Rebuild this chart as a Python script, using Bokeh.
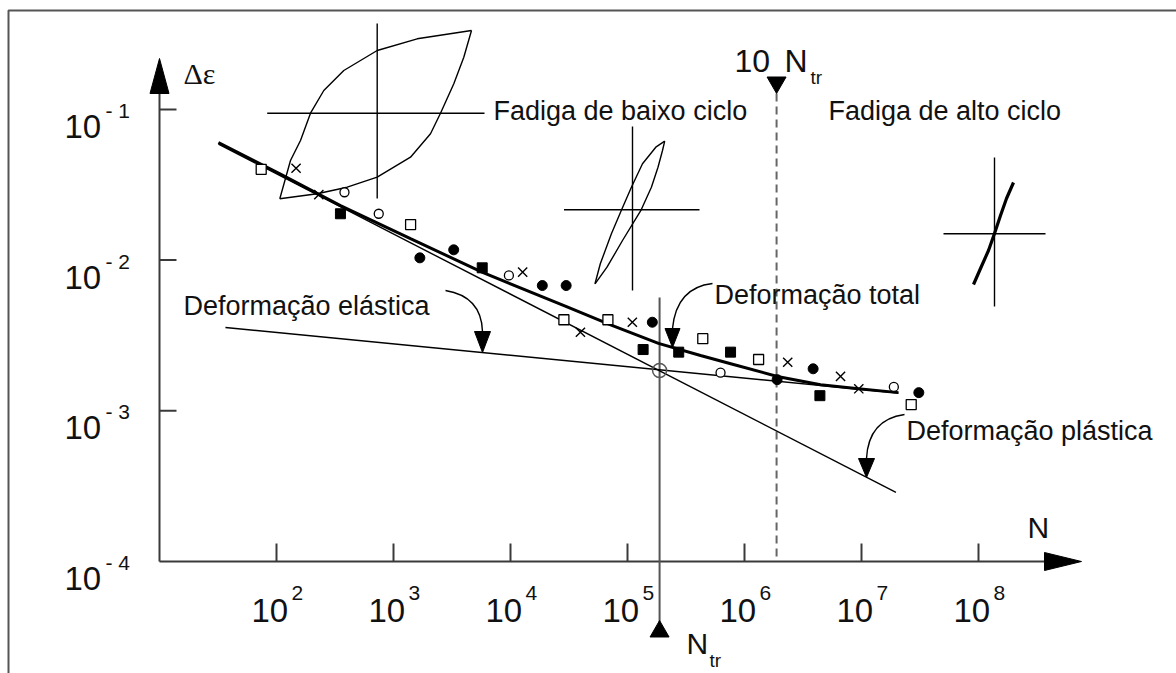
import numpy as np
from bokeh.plotting import figure
from bokeh.models import Range1d, LinearScale
from bokeh.core.properties import value
from bokeh.embed import file_html
from bokeh.resources import INLINE

# ---------------- data ----------------
x_tick_exponents = [2, 3, 4, 5, 6, 7, 8]
y_tick_exponents = [-1, -2, -3, -4]
y_tick_sup = ["- 1", "- 2", "- 3", "- 4"]

open_square_N = [74, 1400, 2.86e4, 6.8e4, 4.4e5, 1.32e6, 2.66e7]
open_square_eps = [0.0400, 0.0172, 0.00402, 0.00402, 0.00301, 0.00219, 0.00110]

filled_square_N = [352, 5730, 1.36e5, 2.74e5, 7.6e5, 4.41e6]
filled_square_eps = [0.0203, 0.00889, 0.00255, 0.00245, 0.00245, 0.00126]

open_circle_N = [381, 748, 9690, 6.24e5, 1.89e7]
open_circle_eps = [0.0282, 0.0203, 0.00791, 0.00179, 0.00144]

filled_circle_N = [1680, 3270, 1.87e4, 2.99e4, 1.63e5, 1.90e6, 3.86e6, 3.09e7]
filled_circle_eps = [0.01035, 0.0117, 0.00678, 0.00678, 0.00387, 0.00161, 0.00190, 0.00132]

cross_N = [147, 230, 1.27e4, 3.96e4, 1.10e5, 2.34e6, 6.62e6, 9.48e6]
cross_eps = [0.0407, 0.0272, 0.00832, 0.00332, 0.00387, 0.00210, 0.00169, 0.00140]

total_N = [31.9, 108, 352, 1396, 5770, 3.01e4, 7.45e4, 1.84e5, 4.21e5, 8.05e5,
           1.91e6, 4.47e6, 9.42e6, 2.07e7]
total_eps = [0.0603, 0.0372, 0.0230, 0.0139, 0.00828, 0.00492, 0.00368, 0.00280,
             0.00233, 0.00203, 0.00169, 0.00149, 0.00140, 0.00132]

elastic_N = [36.6, 2.07e7]
elastic_eps = [0.00357, 0.00131]

plastic_N = [31.9, 1.97e7]
plastic_eps = [0.0589, 0.000288]

N_tr = 1.88e5
eps_tr = 0.00185
N_origin = 10.0
eps_origin = 1e-4

# ---------------- figure ----------------
FONT = "Liberation Sans"
AX = "#3a3a3a"
TXT = "#111111"

LX0, LX1 = -0.35897, 9.69231
LY0, LY1 = -4.74320, -0.27737

p = figure(width=1176, height=673, x_axis_type="log", y_axis_type="log",
           x_range=Range1d(10 ** LX0, 10 ** LX1), y_range=Range1d(10 ** LY0, 10 ** LY1),
           x_axis_location=None, y_axis_location=None, title=None,
           toolbar_location=None, output_backend="svg", min_border=0)
p.outline_line_color = None
p.background_fill_color = "white"
p.border_fill_color = "white"
p.grid.visible = False

# a page-pixel coordinate system for the sketch decorations
p.extra_x_ranges = {"px": Range1d(0, 1176)}
p.extra_y_ranges = {"px": Range1d(673, 0)}
p.extra_x_scales = {"px": LinearScale()}
p.extra_y_scales = {"px": LinearScale()}
PX = dict(x_range_name="px", y_range_name="px")


def ptext(x, y, t, size, font=FONT, **kw):
    p.text(x=[x], y=[y], text=[t], text_font=value(font), text_font_size=size,
           text_baseline="alphabetic", text_align="left", text_color=TXT, **PX, **kw)


# page frame (top + left)
p.line([8, 8, 1176], [673, 10, 10], line_color="#555555", line_width=2, **PX)

# ---------------- axes ----------------
p.line([159, 1046], [561, 561], line_color=AX, line_width=2, **PX)
p.patch([1044, 1081, 1044], [552, 561, 570], color="black", **PX)
p.line([159, 159], [561, 90], line_color=AX, line_width=2, **PX)
p.patch([149.5, 159, 168.5], [93, 58, 93], color="black", **PX)

xt = [10.0 ** e for e in x_tick_exponents]
p.ray(x=xt, y=[eps_origin] * len(xt), length=18, angle=np.pi / 2, length_units="screen",
      line_color=AX, line_width=2)
p.text(x=xt, y=[eps_origin] * len(xt), text=["10"] * len(xt), x_offset=-25, y_offset=49,
       text_font=value(FONT), text_font_size="33px", text_baseline="alphabetic",
       text_align="left", text_color=TXT)
p.text(x=xt, y=[eps_origin] * len(xt), text=[str(e) for e in x_tick_exponents],
       x_offset=15, y_offset=32, text_font=value(FONT), text_font_size="21px",
       text_baseline="alphabetic", text_align="left", text_color=TXT)

yt = [10.0 ** e for e in y_tick_exponents]
p.ray(x=[N_origin] * 3, y=yt[:3], length=17, angle=0, length_units="screen",
      line_color=AX, line_width=2)
p.text(x=[N_origin] * len(yt), y=yt, text=["10"] * len(yt), x_offset=-95, y_offset=17,
       text_font=value(FONT), text_font_size="33px", text_baseline="alphabetic",
       text_align="left", text_color=TXT)
p.text(x=[N_origin] * len(yt), y=yt, text=y_tick_sup, x_offset=-54, y_offset=1,
       text_font=value(FONT), text_font_size="21px", text_baseline="alphabetic",
       text_align="left", text_color=TXT)

ptext(183, 73, "\u0394\u03b5", "30px", font="Liberation Serif")
ptext(1027, 527, "N", "30px")

# ---------------- N_tr markers ----------------
p.line([N_tr, N_tr], [297, 622], line_color="#555555", line_width=2,
       y_range_name="px")
p.scatter([N_tr], [631], marker="triangle", size=19, color="black",
          y_range_name="px")
ptext(686, 643, "N", "30px")
ptext(709, 660, "tr", "19px")

p.line([10 * N_tr, 10 * N_tr], [93, 561], line_color="#666666", line_width=2,
       line_dash="8 5", y_range_name="px")
p.scatter([10 * N_tr], [82], marker="inverted_triangle", size=19, color="black",
          y_range_name="px")
ptext(734, 60, "10", "32px")
ptext(784, 60, "N", "32px")
ptext(810, 77, "tr", "19px")

# ---------------- hysteresis loop sketches ----------------
LW = 1.4
# large loop
p.line([376.7, 376.7], [23, 198], line_color="black", line_width=LW, **PX)
p.line([266.7, 484], [112.7, 112.7], line_color="black", line_width=LW, **PX)
p.line([279.3, 290, 300, 310, 323.3, 343.3, 376.7, 416.7, 471],
       [198.3, 160, 140, 112.7, 90, 70, 50, 38.3, 30], line_color="black", line_width=LW, **PX)
p.line([279.3, 316.7, 346.7, 376.7, 410, 430, 440, 453.3, 463.3, 471],
       [198.3, 193.3, 186.7, 176.7, 156.7, 133.3, 112.7, 83.3, 56.7, 30],
       line_color="black", line_width=LW, **PX)
# medium loop
p.line([632, 632], [126, 290], line_color="black", line_width=LW, **PX)
p.line([563.5, 699], [209.3, 209.3], line_color="black", line_width=LW, **PX)
p.line([594.5, 599.8, 610.9, 621.1, 630.9, 642, 655.3, 664.2],
       [283.3, 263.3, 233.3, 209.3, 186.7, 163.3, 146.7, 140.7], line_color="black", line_width=LW, **PX)
p.line([594.5, 606.5, 622, 640.7, 650.9, 657.5, 662, 664.2],
       [283.3, 266.7, 240, 209.3, 186.7, 166.7, 150, 140.7], line_color="black", line_width=LW, **PX)
# small loop
p.line([994, 994], [157, 306], line_color="black", line_width=LW, **PX)
p.line([943, 1045], [233.3, 233.3], line_color="black", line_width=LW, **PX)
p.line([973, 980, 988, 994, 1000, 1006, 1013],
       [284, 268, 250, 233, 215, 198, 182], line_color="black", line_width=3.2, **PX)

# ---------------- curves ----------------
p.line(elastic_N, elastic_eps, line_color="black", line_width=1.4)
p.line(plastic_N, plastic_eps, line_color="black", line_width=1.4)
p.line(total_N, total_eps, line_color="black", line_width=3)
p.scatter([N_tr], [eps_tr], marker="circle", size=14, fill_color=None,
          line_color="#555555", line_width=1.5)

# ---------------- data points ----------------
p.scatter(open_square_N, open_square_eps, marker="square", size=10, fill_color="white",
          line_color="black", line_width=1.3)
p.scatter(filled_square_N, filled_square_eps, marker="square", size=10, color="black")
p.scatter(open_circle_N, open_circle_eps, marker="circle", size=9, fill_color="white",
          line_color="black", line_width=1.3)
p.scatter(filled_circle_N, filled_circle_eps, marker="circle", size=10, color="black")
p.scatter(cross_N, cross_eps, marker="x", size=13, line_color="black", line_width=1.4)

# ---------------- annotations ----------------
ptext(493, 110, "Fadiga de baixo ciclo", "27px")
ptext(828, 110, "Fadiga de alto ciclo", "27px")
ptext(714, 294, "Deformação total", "27px")
ptext(183, 305, "Deformação elástica", "27px")
ptext(906, 430, "Deformação plástica", "27px")

p.quadratic(x0=[445], y0=[290], x1=[482], y1=[331], cx=[481], cy=[296],
            line_color="black", line_width=1.4, **PX)
p.patch([474, 490, 482], [331, 331, 352], color="black", **PX)
p.quadratic(x0=[712], y0=[283], x1=[672], y1=[328], cx=[676], cy=[287],
            line_color="black", line_width=1.4, **PX)
p.patch([664.5, 679.5, 672], [328, 328, 347], color="black", **PX)
p.quadratic(x0=[904], y0=[414], x1=[866], y1=[458], cx=[868], cy=[419],
            line_color="black", line_width=1.4, **PX)
p.patch([858, 874, 866], [458, 458, 477], color="black", **PX)

open("out.html", "w").write(file_html(p, INLINE))
